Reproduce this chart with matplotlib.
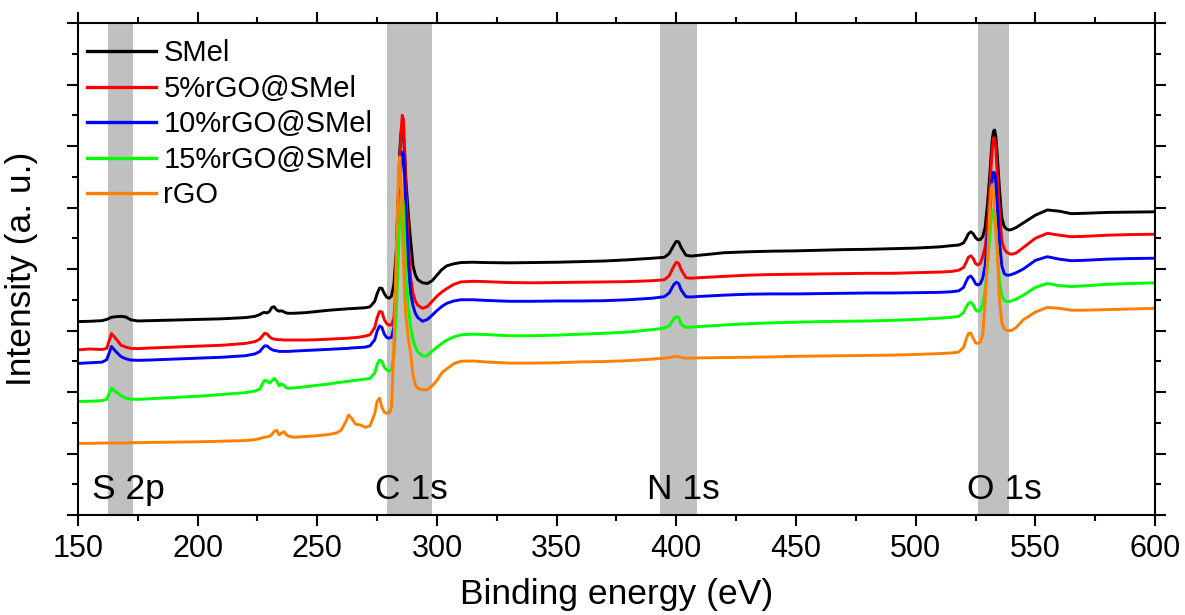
import matplotlib
matplotlib.use("Agg")
import matplotlib.pyplot as plt
from matplotlib.ticker import MultipleLocator, NullFormatter

plt.rcParams['font.family'] = ['Liberation Sans', 'DejaVu Sans']

# Binding-energy grid (eV) shared by all survey spectra
energy = [
    150, 155, 160, 162, 164, 166, 168, 170, 172, 175,
    180, 190, 200, 210, 220, 224, 226, 227, 228, 229,
    230, 231, 232, 233, 234, 235, 236, 237, 238, 240,
    245, 250, 255, 258, 260, 262, 263, 264, 266, 268,
    270, 272, 274, 275, 276, 277, 278, 279, 280, 281,
    282, 283, 284, 284.5, 285, 285.5, 286, 286.5, 287, 288,
    289, 290, 291, 292, 294, 296, 298, 300, 302, 304,
    307, 310, 315, 320, 330, 340, 350, 360, 370, 380,
    390, 395, 397, 399, 400, 401, 402, 404, 406, 410,
    420, 430, 440, 450, 460, 470, 480, 490, 500, 510,
    515, 518, 520, 521, 522, 523, 524, 525, 526, 527,
    528, 529, 530, 531, 531.5, 532, 532.5, 533, 533.5, 534,
    535, 536, 537, 538, 539, 540, 542, 545, 550, 555,
    560, 565, 570, 580, 590, 600,
]

# Stacked intensities (a. u., offset for clarity)
smel = [
    6.29, 6.30, 6.32, 6.36, 6.43, 6.45, 6.46, 6.44, 6.35, 6.31,
    6.32, 6.34, 6.36, 6.38, 6.42, 6.46, 6.52, 6.57, 6.59, 6.57,
    6.62, 6.75, 6.77, 6.67, 6.63, 6.64, 6.61, 6.57, 6.56, 6.56,
    6.58, 6.62, 6.66, 6.68, 6.69, 6.70, 6.71, 6.71, 6.72, 6.73,
    6.74, 6.77, 6.95, 7.20, 7.38, 7.37, 7.20, 7.08, 7.05, 7.12,
    7.50, 8.60, 10.8, 11.9, 12.45, 12.6, 12.35, 11.7, 10.9, 9.8,
    8.9, 8.1, 7.8, 7.65, 7.55, 7.53, 7.62, 7.80, 7.98, 8.10,
    8.17, 8.21, 8.22, 8.21, 8.20, 8.21, 8.22, 8.24, 8.26, 8.30,
    8.35, 8.38, 8.50, 8.78, 8.90, 8.88, 8.70, 8.45, 8.42, 8.45,
    8.53, 8.56, 8.58, 8.59, 8.61, 8.63, 8.64, 8.66, 8.68, 8.72,
    8.76, 8.78, 8.85, 8.98, 9.14, 9.21, 9.15, 9.02, 8.95, 8.96,
    9.05, 9.35, 10.1, 11.1, 11.7, 12.2, 12.48, 12.52, 12.3, 11.8,
    10.6, 9.65, 9.38, 9.30, 9.27, 9.28, 9.35, 9.50, 9.75, 9.92,
    9.88, 9.80, 9.81, 9.84, 9.85, 9.86,
]

rgo5_smel = [
    5.37, 5.40, 5.38, 5.42, 5.90, 5.72, 5.52, 5.46, 5.42, 5.41,
    5.43, 5.46, 5.49, 5.52, 5.58, 5.64, 5.72, 5.82, 5.91, 5.89,
    5.80, 5.74, 5.72, 5.71, 5.70, 5.70, 5.69, 5.69, 5.69, 5.69,
    5.69, 5.70, 5.72, 5.73, 5.74, 5.75, 5.75, 5.76, 5.77, 5.79,
    5.82, 5.86, 6.10, 6.42, 6.62, 6.60, 6.35, 6.22, 6.18, 6.18,
    6.40, 7.50, 10.0, 11.5, 12.5, 13.0, 12.85, 11.9, 10.6, 8.9,
    7.7, 7.2, 6.95, 6.82, 6.72, 6.78, 6.95, 7.12, 7.25, 7.36,
    7.50, 7.58, 7.60, 7.59, 7.56, 7.55, 7.56, 7.57, 7.58, 7.59,
    7.62, 7.65, 7.78, 8.10, 8.22, 8.18, 7.98, 7.72, 7.70, 7.72,
    7.76, 7.80, 7.82, 7.83, 7.84, 7.85, 7.86, 7.86, 7.88, 7.90,
    7.92, 7.96, 8.05, 8.20, 8.38, 8.43, 8.35, 8.18, 8.13, 8.18,
    8.40, 8.70, 9.40, 10.6, 11.3, 11.9, 12.27, 12.25, 11.9, 11.2,
    9.9, 8.9, 8.65, 8.55, 8.50, 8.48, 8.52, 8.70, 9.00, 9.16,
    9.10, 9.05, 9.06, 9.10, 9.12, 9.13,
]

rgo10_smel = [
    4.93, 4.95, 4.97, 5.05, 5.48, 5.30, 5.15, 5.08, 5.04, 5.03,
    5.04, 5.07, 5.10, 5.13, 5.18, 5.24, 5.32, 5.42, 5.50, 5.50,
    5.43, 5.38, 5.35, 5.34, 5.32, 5.32, 5.32, 5.32, 5.32, 5.33,
    5.35, 5.37, 5.39, 5.40, 5.41, 5.42, 5.42, 5.43, 5.44, 5.45,
    5.46, 5.50, 5.70, 5.98, 6.15, 6.10, 5.88, 5.77, 5.75, 5.78,
    6.10, 7.30, 9.50, 10.6, 11.4, 11.8, 11.75, 11.0, 9.9, 8.2,
    7.2, 6.8, 6.55, 6.42, 6.30, 6.36, 6.50, 6.65, 6.78, 6.88,
    6.96, 7.00, 7.00, 6.98, 6.95, 6.95, 6.96, 6.96, 6.97, 7.00,
    7.05, 7.10, 7.22, 7.50, 7.57, 7.52, 7.32, 7.10, 7.09, 7.11,
    7.15, 7.18, 7.19, 7.19, 7.20, 7.21, 7.22, 7.22, 7.23, 7.24,
    7.26, 7.29, 7.40, 7.58, 7.73, 7.77, 7.68, 7.52, 7.48, 7.52,
    7.70, 8.10, 8.90, 9.90, 10.5, 10.95, 11.15, 11.12, 10.8, 10.2,
    8.9, 8.1, 7.85, 7.80, 7.80, 7.82, 7.88, 8.00, 8.28, 8.40,
    8.32, 8.27, 8.28, 8.32, 8.34, 8.35,
]

rgo15_smel = [
    3.69, 3.70, 3.72, 3.76, 4.12, 4.00, 3.88, 3.80, 3.77, 3.76,
    3.78, 3.82, 3.86, 3.92, 3.98, 4.03, 4.10, 4.26, 4.38, 4.36,
    4.29, 4.36, 4.44, 4.36, 4.20, 4.26, 4.22, 4.14, 4.12, 4.13,
    4.17, 4.22, 4.26, 4.30, 4.32, 4.34, 4.35, 4.36, 4.38, 4.40,
    4.42, 4.44, 4.62, 4.90, 5.04, 5.00, 4.80, 4.72, 4.68, 4.72,
    5.20, 6.60, 8.80, 9.80, 10.45, 10.5, 10.0, 9.0, 7.8, 6.8,
    6.1, 5.7, 5.45, 5.30, 5.17, 5.18, 5.33, 5.46, 5.58, 5.68,
    5.79, 5.86, 5.88, 5.87, 5.83, 5.83, 5.85, 5.88, 5.91, 5.95,
    6.03, 6.08, 6.15, 6.38, 6.45, 6.42, 6.20, 6.10, 6.11, 6.13,
    6.18, 6.22, 6.25, 6.27, 6.29, 6.30, 6.31, 6.33, 6.36, 6.40,
    6.43, 6.46, 6.58, 6.75, 6.88, 6.92, 6.84, 6.67, 6.62, 6.66,
    6.85, 7.30, 8.10, 9.05, 9.55, 9.88, 9.92, 9.75, 9.30, 8.70,
    7.6, 7.12, 6.98, 6.94, 6.94, 6.96, 7.02, 7.15, 7.40, 7.53,
    7.46, 7.43, 7.45, 7.50, 7.53, 7.55,
]

rgo = [
    2.33, 2.33, 2.34, 2.34, 2.34, 2.34, 2.34, 2.34, 2.35, 2.35,
    2.36, 2.37, 2.38, 2.40, 2.42, 2.45, 2.49, 2.51, 2.53, 2.54,
    2.56, 2.62, 2.72, 2.76, 2.61, 2.66, 2.71, 2.62, 2.56, 2.53,
    2.55, 2.58, 2.62, 2.67, 2.76, 3.05, 3.25, 3.18, 2.95, 2.93,
    2.85, 2.90, 3.30, 3.70, 3.80, 3.50, 3.34, 3.31, 3.32, 3.50,
    5.50, 8.60, 11.3, 11.65, 10.8, 9.5, 8.2, 7.1, 6.5, 5.75,
    5.25, 4.55, 4.22, 4.12, 4.07, 4.08, 4.20, 4.38, 4.62, 4.75,
    4.92, 5.00, 5.01, 4.98, 4.94, 4.94, 4.95, 4.98, 4.99, 5.02,
    5.07, 5.10, 5.12, 5.15, 5.16, 5.15, 5.13, 5.10, 5.10, 5.11,
    5.12, 5.13, 5.14, 5.16, 5.17, 5.18, 5.19, 5.20, 5.22, 5.25,
    5.27, 5.30, 5.45, 5.70, 5.90, 5.92, 5.75, 5.60, 5.58, 5.62,
    5.85, 6.90, 8.30, 10.0, 10.6, 10.75, 10.4, 9.8, 9.2, 8.7,
    7.0, 6.25, 6.05, 6.00, 6.00, 6.00, 6.10, 6.35, 6.60, 6.75,
    6.72, 6.66, 6.66, 6.68, 6.70, 6.72,
]

series_labels = ['SMel', '5%rGO@SMel', '10%rGO@SMel', '15%rGO@SMel', 'rGO']
series_colors = ['#000000', '#ff0000', '#0000ff', '#00ff00', '#ff8000']

# Core-level windows and their labels
band_lo = [162.5, 279.0, 393.0, 526.0]
band_hi = [173.0, 298.0, 408.5, 539.0]
band_names = ['S 2p', 'C 1s', 'N 1s', 'O 1s']
band_label_x = [171.0, 289.5, 403.0, 537.0]

fig = plt.figure(figsize=(11.85, 6.15), dpi=100)
ax = fig.add_axes([0.0658, 0.1626, 0.9089, 0.8000])

for lo, hi in zip(band_lo, band_hi):
    ax.axvspan(lo, hi, color='#c0c0c0', lw=0, zorder=0)

for ys, lab, col in zip([smel, rgo5_smel, rgo10_smel, rgo15_smel, rgo],
                        series_labels, series_colors):
    ax.plot(energy, ys, color=col, lw=2.1, label=lab, zorder=2)

for name, xl in zip(band_names, band_label_x):
    ax.text(xl, 0.52, name, ha='center', va='baseline', fontsize=25.5, zorder=3)

ax.set_xlim(150, 600)
ax.set_ylim(0, 16)
ax.xaxis.set_major_locator(MultipleLocator(50))
ax.xaxis.set_minor_locator(MultipleLocator(25))
ax.yaxis.set_major_locator(MultipleLocator(2))
ax.yaxis.set_minor_locator(MultipleLocator(1))
ax.yaxis.set_major_formatter(NullFormatter())

ax.tick_params(which='both', direction='out', top=True, right=True,
               width=1.5, labelsize=22, pad=6)
ax.tick_params(which='major', length=8)
ax.tick_params(which='minor', length=4.5)
for sp in ax.spines.values():
    sp.set_linewidth(1.5)

ax.set_xlabel('Binding energy (eV)', fontsize=25.5, labelpad=10)
ax.set_ylabel('Intensity (a. u.)', fontsize=25.5, labelpad=15)

leg = ax.legend(loc='upper left', bbox_to_anchor=(0.003, 0.979), frameon=False,
                fontsize=21, handlelength=2.35, handletextpad=0.27,
                labelspacing=0.26, borderaxespad=0, borderpad=0.2)
for h in leg.get_lines():
    h.set_linewidth(2.4)

fig.savefig('out.png', dpi=100)
